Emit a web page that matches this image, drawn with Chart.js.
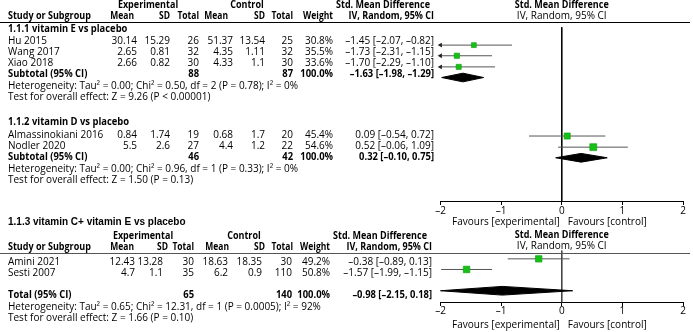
<!DOCTYPE html>
<html>
<head>
<meta charset="utf-8">
<script src="https://cdn.jsdelivr.net/npm/chart.js@4/dist/chart.umd.min.js"></script>
<style>
html,body{margin:0;padding:0;background:#fff;overflow:hidden}
canvas{display:block}
</style>
</head>
<body>
<canvas id="c" width="693" height="332"></canvas>
<script>
// ================= DATA =================
const axisTicks = [-2, -1, 0, 1, 2];
const favoursLabels = ['Favours [experimental]', 'Favours [control]'];
const headerGroups = ['Experimental', 'Control', 'Std. Mean Difference'];
const headerCols = ['Study or Subgroup', 'Mean', 'SD', 'Total', 'Mean', 'SD', 'Total', 'Weight', 'IV, Random, 95% CI'];
const plotHeader = ['Std. Mean Difference', 'IV, Random, 95% CI'];

// 1.1.1 vitamin E vs placebo
const g1Title = '1.1.1 vitamin E vs placebo';
const g1Study = ['Hu 2015', 'Wang 2017', 'Xiao 2018'];
const g1ExpMean = [30.14, 2.65, 2.66];
const g1ExpSD = [15.29, 0.81, 0.82];
const g1ExpN = [26, 32, 30];
const g1CtlMean = [51.37, 4.35, 4.33];
const g1CtlSD = [13.54, 1.11, 1.1];
const g1CtlN = [25, 32, 30];
const g1Weight = [30.8, 35.5, 33.6];
const g1SMD = [-1.45, -1.73, -1.70];
const g1Lo = [-2.07, -2.31, -2.29];
const g1Hi = [-0.82, -1.15, -1.10];
const g1SubLabel = 'Subtotal (95% CI)';
const g1SubN = [88, 87];
const g1SubWeight = [100.0];
const g1SubEffect = [-1.63, -1.98, -1.29];
const g1Het = 'Heterogeneity: Tau\u00B2 = 0.00; Chi\u00B2 = 0.50, df = 2 (P = 0.78); I\u00B2 = 0%';
const g1Test = 'Test for overall effect: Z = 9.26 (P < 0.00001)';

// 1.1.2 vitamin D vs placebo
const g2Title = '1.1.2 vitamin D vs placebo';
const g2Study = ['Almassinokiani 2016', 'Nodler 2020'];
const g2ExpMean = [0.84, 5.5];
const g2ExpSD = [1.74, 2.6];
const g2ExpN = [19, 27];
const g2CtlMean = [0.68, 4.4];
const g2CtlSD = [1.7, 1.2];
const g2CtlN = [20, 22];
const g2Weight = [45.4, 54.6];
const g2SMD = [0.09, 0.52];
const g2Lo = [-0.54, -0.06];
const g2Hi = [0.72, 1.09];
const g2SubLabel = 'Subtotal (95% CI)';
const g2SubN = [46, 42];
const g2SubWeight = [100.0];
const g2SubEffect = [0.32, -0.10, 0.75];
const g2Het = 'Heterogeneity: Tau\u00B2 = 0.00; Chi\u00B2 = 0.96, df = 1 (P = 0.33); I\u00B2 = 0%';
const g2Test = 'Test for overall effect: Z = 1.50 (P = 0.13)';

// 1.1.3 vitamin C+ vitamin E vs placebo
const g3Title = '1.1.3 vitamin C+ vitamin E vs placebo';
const g3Study = ['Amini 2021', 'Sesti 2007'];
const g3ExpMean = [12.43, 4.7];
const g3ExpSD = [13.28, 1.1];
const g3ExpN = [30, 35];
const g3CtlMean = [18.63, 6.2];
const g3CtlSD = [18.35, 0.9];
const g3CtlN = [30, 110];
const g3Weight = [49.2, 50.8];
const g3SMD = [-0.38, -1.57];
const g3Lo = [-0.89, -1.99];
const g3Hi = [0.13, -1.15];
const g3SubLabel = 'Total (95% CI)';
const g3SubN = [65, 140];
const g3SubWeight = [100.0];
const g3SubEffect = [-0.98, -2.15, 0.18];
const g3Het = 'Heterogeneity: Tau\u00B2 = 0.65; Chi\u00B2 = 12.31, df = 1 (P = 0.0005); I\u00B2 = 92%';
const g3Test = 'Test for overall effect: Z = 1.66 (P = 0.10)';

// ================= LAYOUT / STYLE =================
const W = 693, H = 332;
const PLOT_LEFT = 440.5, PLOT_RIGHT = 683;
const FONT = "'Open Sans', 'Noto Sans', sans-serif";
const TITLE3_FONT = "'Liberation Sans', Arial, sans-serif";
const FS = 10;
const BOLD_SQUEEZE = 0.94;
const GROUP_SQUEEZE = 0.9;
const COLHDR_SQUEEZE = 0.85;
const TEXT_COLOR = '#000';
const CI_COLOR = '#555';
const BOX_COLOR = '#16c016';
const BOX_EDGE = '#0d9a0d';
const DIAMOND_HALF = 4.5;
const LEFT_X = 8;

const Y = {
  hdr1: 5.5, hdr2: 16.5, rule1: 22.5,
  g1Title: 29, g1Rows: [41, 52, 63.5], g1Sub: 74.5, g1Het: 86, g1Test: 97.5,
  g2Title: 122.5, g2Rows: [135, 146.5], g2Sub: 157.5, g2Het: 169, g2Test: 180.5,
  axis1: 203, fav1: 222,
  g3Title: 222, hdr3: 236, hdr4: 247, rule2: 253.5,
  g3Rows: [262, 273], g3Sub: 295, g3Het: 307, g3Test: 318.5,
  axis2: 307, fav2: 325
};
const COLS_TOP = {study: LEFT_X, expMean: 137, expSD: 170, expN: 199, ctlMean: 233, ctlSD: 265, ctlN: 293, weight: 333, ci: 434};
const COLS_BOT = {study: LEFT_X, expMean: 135, expSD: 163, expN: 194, ctlMean: 228, ctlSD: 262, ctlN: 292, weight: 330, ci: 432};
const HDR_TOP = {g: [148, 247, 383], mean1: 134, sd1: 170, n1: 199, mean2: 228, sd2: 265, n2: 293, weight: 333, ci: 434};
const HDR_BOT = {g: [143, 244, 380], mean1: 134, sd1: 168, n1: 194, mean2: 229, sd2: 265, n2: 293, weight: 330, ci: 432};

// ================= HELPERS =================
const dash = s => s.replace(/-/g, '\u2013');
const f2 = v => dash(v.toFixed(2));
const fnum = v => dash(String(v));
const fpct = v => v.toFixed(1) + '%';
const fci = (e, lo, hi) => `${f2(e)} [${f2(lo)}, ${f2(hi)}]`;
const AX_MIN = axisTicks[0], AX_MAX = axisTicks[axisTicks.length - 1];
const clampX = v => Math.min(AX_MAX, Math.max(AX_MIN, v));

function forestDatasets(rowsY, smd, lo, hi, weight, subY, subEffect, axisID) {
  const ds = [];
  rowsY.forEach((y, i) => {
    ds.push({
      type: 'scatter', showLine: true, xAxisID: axisID, clip: false, order: 3,
      data: [{x: clampX(lo[i]), y}, {x: clampX(hi[i]), y}],
      borderColor: CI_COLOR, borderWidth: 1, pointRadius: 0
    });
  });
  const arrows = [];
  rowsY.forEach((y, i) => { if (lo[i] < AX_MIN) arrows.push({x: AX_MIN, y}); });
  rowsY.forEach((y, i) => { if (hi[i] > AX_MAX) arrows.push({x: AX_MAX, y}); });
  if (arrows.length) {
    ds.push({
      type: 'scatter', xAxisID: axisID, clip: false, order: 2,
      data: arrows, pointStyle: 'triangle',
      rotation: arrows.map(p => p.x <= AX_MIN ? 270 : 90),
      pointRadius: 2.8, backgroundColor: '#222', borderColor: '#222', borderWidth: 0
    });
  }
  ds.push({
    type: 'scatter', xAxisID: axisID, clip: false, order: 1,
    data: rowsY.map((y, i) => ({x: smd[i], y})),
    pointStyle: 'rect',
    pointRadius: weight.map(w => 1.6 + w * 0.06),
    backgroundColor: BOX_COLOR, borderColor: BOX_EDGE, borderWidth: 0.6
  });
  const [e, l, h] = subEffect;
  ds.push({
    type: 'line', xAxisID: axisID, clip: false, order: 1,
    data: [{x: clampX(l), y: subY}, {x: e, y: subY - DIAMOND_HALF}, {x: clampX(h), y: subY},
           {x: e, y: subY + DIAMOND_HALF}, {x: clampX(l), y: subY}],
    fill: 'shape', backgroundColor: '#000', borderColor: '#000', borderWidth: 1,
    pointRadius: 0, tension: 0
  });
  return ds;
}

const datasets = [
  {type: 'scatter', showLine: true, xAxisID: 'x', clip: false, order: 5,
   data: [{x: 0, y: Y.rule1}, {x: 0, y: Y.axis1}], borderColor: '#000', borderWidth: 1, pointRadius: 0},
  {type: 'scatter', showLine: true, xAxisID: 'x2', clip: false, order: 5,
   data: [{x: 0, y: Y.rule2}, {x: 0, y: Y.axis2}], borderColor: '#444', borderWidth: 1, pointRadius: 0},
  ...forestDatasets(Y.g1Rows, g1SMD, g1Lo, g1Hi, g1Weight, Y.g1Sub, g1SubEffect, 'x'),
  ...forestDatasets(Y.g2Rows, g2SMD, g2Lo, g2Hi, g2Weight, Y.g2Sub, g2SubEffect, 'x'),
  ...forestDatasets(Y.g3Rows, g3SMD, g3Lo, g3Hi, g3Weight, Y.g3Sub, g3SubEffect, 'x2')
];

function put(ctx, s, x, y, align, bold, family, size, squeeze) {
  ctx.font = (bold ? 'bold ' : '') + (size || FS) + 'px ' + (family || FONT);
  ctx.textAlign = align;
  ctx.textBaseline = 'middle';
  if (bold && !family) {
    const w = ctx.measureText(s).width;
    ctx.fillText(s, x, y, w * (squeeze || BOLD_SQUEEZE));
  } else {
    ctx.fillText(s, x, y);
  }
}

function drawHeader(ctx, y1, y2, H) {
  put(ctx, headerGroups[0], H.g[0], y1, 'center', true, null, null, GROUP_SQUEEZE);
  put(ctx, headerGroups[1], H.g[1], y1, 'center', true, null, null, GROUP_SQUEEZE);
  put(ctx, headerGroups[2], H.g[2], y1, 'center', true, null, null, GROUP_SQUEEZE);
  put(ctx, headerCols[0], LEFT_X, y2, 'left', true, null, null, GROUP_SQUEEZE);
  put(ctx, headerCols[1], H.mean1, y2, 'right', true, null, null, COLHDR_SQUEEZE);
  put(ctx, headerCols[2], H.sd1, y2, 'right', true, null, null, COLHDR_SQUEEZE);
  put(ctx, headerCols[3], H.n1, y2, 'right', true, null, null, COLHDR_SQUEEZE);
  put(ctx, headerCols[4], H.mean2, y2, 'right', true, null, null, COLHDR_SQUEEZE);
  put(ctx, headerCols[5], H.sd2, y2, 'right', true, null, null, COLHDR_SQUEEZE);
  put(ctx, headerCols[6], H.n2, y2, 'right', true, null, null, COLHDR_SQUEEZE);
  put(ctx, headerCols[7], H.weight, y2, 'right', true, null, null, COLHDR_SQUEEZE);
  put(ctx, headerCols[8], H.ci, y2, 'right', true, null, null, GROUP_SQUEEZE);
}

function drawGroup(ctx, C, rowsY, study, em, esd, en, cm, csd, cn, wt, smd, lo, hi,
                   subY, subLabel, subN, subW, subE, hetY, het, testY, test) {
  rowsY.forEach((y, i) => {
    put(ctx, study[i], C.study, y, 'left', false);
    put(ctx, fnum(em[i]), C.expMean, y, 'right', false);
    put(ctx, fnum(esd[i]), C.expSD, y, 'right', false);
    put(ctx, String(en[i]), C.expN, y, 'right', false);
    put(ctx, fnum(cm[i]), C.ctlMean, y, 'right', false);
    put(ctx, fnum(csd[i]), C.ctlSD, y, 'right', false);
    put(ctx, String(cn[i]), C.ctlN, y, 'right', false);
    put(ctx, fpct(wt[i]), C.weight, y, 'right', false);
    put(ctx, fci(smd[i], lo[i], hi[i]), C.ci, y, 'right', false);
  });
  put(ctx, subLabel, C.study, subY, 'left', true);
  put(ctx, String(subN[0]), C.expN, subY, 'right', true);
  put(ctx, String(subN[1]), C.ctlN, subY, 'right', true);
  put(ctx, fpct(subW[0]), C.weight, subY, 'right', true);
  put(ctx, fci(subE[0], subE[1], subE[2]), C.ci, subY, 'right', true);
  put(ctx, het, C.study, hetY, 'left', false);
  put(ctx, test, C.study, testY, 'left', false);
}

const tablePlugin = {
  id: 'forestTable',
  afterDraw(chart) {
    const ctx = chart.ctx;
    ctx.save();
    ctx.fillStyle = TEXT_COLOR;
    ctx.lineWidth = 1;
    ctx.strokeStyle = '#000';
    ctx.beginPath(); ctx.moveTo(0, Y.rule1); ctx.lineTo(690, Y.rule1); ctx.stroke();
    ctx.strokeStyle = '#555';
    ctx.beginPath(); ctx.moveTo(0, Y.rule2); ctx.lineTo(690, Y.rule2); ctx.stroke();

    drawHeader(ctx, Y.hdr1, Y.hdr2, HDR_TOP);
    put(ctx, g1Title, COLS_TOP.study, Y.g1Title, 'left', true);
    drawGroup(ctx, COLS_TOP, Y.g1Rows, g1Study, g1ExpMean, g1ExpSD, g1ExpN, g1CtlMean, g1CtlSD, g1CtlN,
              g1Weight, g1SMD, g1Lo, g1Hi, Y.g1Sub, g1SubLabel, g1SubN, g1SubWeight, g1SubEffect,
              Y.g1Het, g1Het, Y.g1Test, g1Test);
    put(ctx, g2Title, COLS_TOP.study, Y.g2Title, 'left', true);
    drawGroup(ctx, COLS_TOP, Y.g2Rows, g2Study, g2ExpMean, g2ExpSD, g2ExpN, g2CtlMean, g2CtlSD, g2CtlN,
              g2Weight, g2SMD, g2Lo, g2Hi, Y.g2Sub, g2SubLabel, g2SubN, g2SubWeight, g2SubEffect,
              Y.g2Het, g2Het, Y.g2Test, g2Test);

    put(ctx, g3Title, COLS_BOT.study, Y.g3Title, 'left', true, TITLE3_FONT, 10);
    drawHeader(ctx, Y.hdr3, Y.hdr4, HDR_BOT);
    drawGroup(ctx, COLS_BOT, Y.g3Rows, g3Study, g3ExpMean, g3ExpSD, g3ExpN, g3CtlMean, g3CtlSD, g3CtlN,
              g3Weight, g3SMD, g3Lo, g3Hi, Y.g3Sub, g3SubLabel, g3SubN, g3SubWeight, g3SubEffect,
              Y.g3Het, g3Het, Y.g3Test, g3Test);

    const x0a = chart.scales.x.getPixelForValue(0);
    const x0b = chart.scales.x2.getPixelForValue(0);
    put(ctx, plotHeader[0], x0a, Y.hdr1, 'center', true, null, null, GROUP_SQUEEZE);
    put(ctx, plotHeader[1], x0a, Y.hdr2, 'center', false);
    put(ctx, plotHeader[0], x0b, Y.hdr3 - 1, 'center', true, null, null, GROUP_SQUEEZE);
    put(ctx, plotHeader[1], x0b, Y.hdr4 - 1, 'center', false);
    put(ctx, favoursLabels[0], x0a - 2, Y.fav1, 'right', false);
    put(ctx, favoursLabels[1], x0a + 6, Y.fav1, 'left', false);
    put(ctx, favoursLabels[0], x0b - 2, Y.fav2, 'right', false);
    put(ctx, favoursLabels[1], x0b + 6, Y.fav2, 'left', false);
    ctx.restore();
  }
};

function xAxis(posY) {
  return {
    type: 'linear', axis: 'x', min: AX_MIN, max: AX_MAX,
    position: {y: posY},
    afterBuildTicks: s => { s.ticks = axisTicks.map(v => ({value: v})); },
    ticks: {
      color: TEXT_COLOR, padding: 0, maxRotation: 0, autoSkip: false,
      font: {family: FONT, size: FS},
      callback: v => fnum(v)
    },
    grid: {drawOnChartArea: false, drawTicks: true, tickLength: 3, color: '#000', lineWidth: 1},
    border: {display: true, color: '#000', width: 1}
  };
}

Chart.defaults.font.family = FONT;
Chart.defaults.font.size = FS;

new Chart(document.getElementById('c'), {
  type: 'scatter',
  data: {datasets},
  options: {
    responsive: false,
    animation: false,
    devicePixelRatio: 1,
    events: [],
    layout: {padding: {left: PLOT_LEFT, right: W - PLOT_RIGHT, top: 0, bottom: 0}},
    plugins: {legend: {display: false}, tooltip: {enabled: false}, title: {display: false}},
    scales: {
      y: {type: 'linear', min: 0, max: H, reverse: true, display: false},
      x: xAxis(Y.axis1),
      x2: xAxis(Y.axis2)
    }
  },
  plugins: [tablePlugin]
});
</script>
</body>
</html>
